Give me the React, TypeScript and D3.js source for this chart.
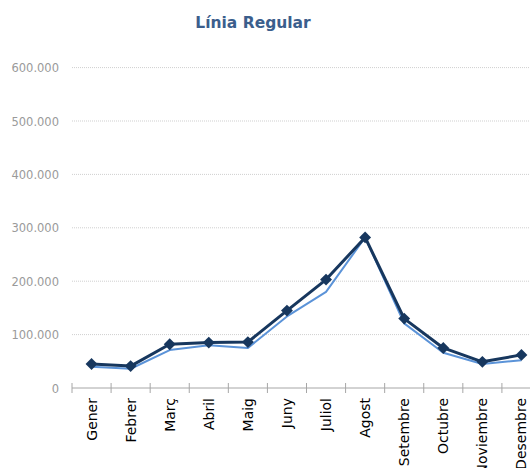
import React from "react";
import * as d3 from "d3";

const months = ["Gener","Febrer","Març","Abril","Maig","Juny","Juliol","Agost","Setembre","Octubre","Noviembre","Desembre"];
const seriesDark = [45000, 41000, 82000, 85000, 86000, 145000, 203000, 282000, 130000, 75000, 49000, 62000];
const seriesLight = [40000, 36000, 71000, 80000, 75000, 134000, 180000, 282000, 121000, 66000, 45000, 52000];
const yTicks = [0, 100000, 200000, 300000, 400000, 500000, 600000];

const fmt = (v: number) => (v === 0 ? "0" : d3.format(",")(v).replace(/,/g, "."));

export default function App() {
  const W = 530, H = 468;
  const x = d3.scaleBand<string>().domain(months).range([72, 541]);
  const y = d3.scaleLinear().domain([0, 600000]).range([388, 67.6]);
  const line = d3.line<number>().x((_, i) => (x(months[i]) as number) + x.bandwidth() / 2).y(d => y(d));
  const diamond = d3.symbol().type(d3.symbolDiamond2).size(90)();
  const font = "Tahoma, 'DejaVu Sans', Verdana, sans-serif";
  const tickPos = months.map(m => x(m) as number).concat([541]);
  return (
    <svg width={W} height={H} style={{ position: "absolute", left: 0, top: 0 }}>
      <rect width={W} height={H} fill="#fff" />
      <text x={253} y={28} textAnchor="middle" fontFamily={font} fontWeight="bold" fontSize={15.5} fill="#3b5e8c">Línia Regular</text>
      {yTicks.filter(t => t > 0).map(t => (
        <line key={t} x1={72} x2={541} y1={y(t)} y2={y(t)} stroke="#cfcfcf" strokeDasharray="1,1" />
      ))}
      {yTicks.map(t => (
        <text key={"l" + t} x={59} y={y(t) + 4.5} textAnchor="end" fontFamily={font} fontSize={11.5} fill="#9a9a9a">{fmt(t)}</text>
      ))}
      <line x1={72} x2={541} y1={388} y2={388} stroke="#a6a6a6" />
      {tickPos.map((p, i) => (
        <line key={"t" + i} x1={p} x2={p} y1={383} y2={393} stroke="#a6a6a6" />
      ))}
      {months.map(m => {
        const cx = (x(m) as number) + x.bandwidth() / 2;
        return (
          <text key={m} transform={`translate(${cx + 5},398) rotate(-90)`} textAnchor="end" fontFamily={font} fontSize={14} fill="#000">{m}</text>
        );
      })}
      <path d={line(seriesLight) as string} fill="none" stroke="#5b93d8" strokeWidth={2} strokeLinejoin="round" />
      <path d={line(seriesDark) as string} fill="none" stroke="#17375e" strokeWidth={3} strokeLinejoin="round" />
      {seriesDark.map((v, i) => (
        <path key={"m" + i} d={diamond as string} transform={`translate(${(x(months[i]) as number) + x.bandwidth() / 2},${y(v)})`} fill="#17375e" />
      ))}
    </svg>
  );
}
